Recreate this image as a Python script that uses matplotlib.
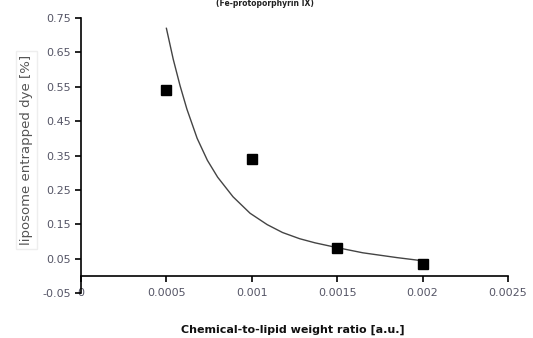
import matplotlib
matplotlib.use("Agg")
import matplotlib.pyplot as plt

# measured points
ratio = [0.0005, 0.001, 0.0015, 0.002]
entrapped = [0.54, 0.34, 0.08, 0.035]

# fitted curve
fit_x = [0.0005, 0.00054, 0.00058, 0.00062, 0.00068, 0.00074, 0.0008, 0.00089,
         0.00099, 0.00109, 0.00118, 0.00128, 0.00137, 0.0015, 0.00165,
         0.00185, 0.00198]
fit_y = [0.72, 0.63, 0.553, 0.485, 0.40, 0.336, 0.287, 0.23,
         0.182, 0.149, 0.126, 0.108, 0.096, 0.082, 0.067,
         0.053, 0.045]

yticks = [-0.05, 0.05, 0.15, 0.25, 0.35, 0.45, 0.55, 0.65, 0.75]
xticks = [0, 0.0005, 0.001, 0.0015, 0.002, 0.0025]
xlabels = ["0", "0.0005", "0.001", "0.0015", "0.002", "0.0025"]

fig = plt.figure(figsize=(5.33, 3.38), dpi=100)
ax = fig.add_axes([0.152, 0.1331, 0.801, 0.8136])

ax.plot(fit_x, fit_y, color="#444444", lw=1.0, solid_joinstyle="round")
ax.plot(ratio, entrapped, "s", color="black", ms=6.5)

ax.set_xlim(0, 0.0025)
ax.set_ylim(-0.05, 0.75)
ax.set_yticks(yticks)
ax.set_yticklabels([f"{v:.2f}" for v in yticks])
ax.set_xticks(xticks)
ax.set_xticklabels(xlabels)

ax.spines["top"].set_visible(False)
ax.spines["right"].set_visible(False)
ax.spines["bottom"].set_position(("data", 0))
for s in ("left", "bottom"):
    ax.spines[s].set_linewidth(1.2)

ax.tick_params(axis="y", length=4, width=1.2, pad=3, labelsize=8, labelcolor="#555566")
ax.tick_params(axis="x", length=4, width=1.2, pad=5, labelsize=8, labelcolor="#555566")

fig.text(0.05, 0.556, "liposome entrapped dye [%]", rotation=90, ha="center",
         va="center", fontsize=9.5, color="#555555",
         bbox=dict(facecolor="white", edgecolor="#eeeeee", pad=3))
fig.text(0.55, 0.025, "Chemical-to-lipid weight ratio [a.u.]", ha="center",
         va="center", fontsize=8, fontweight="bold", color="#111111")
fig.text(0.497, 0.99, "(Fe-protoporphyrin IX)", ha="center", va="center",
         fontsize=5.5, fontweight="bold", color="#222222")

fig.savefig("out.png", dpi=100)
